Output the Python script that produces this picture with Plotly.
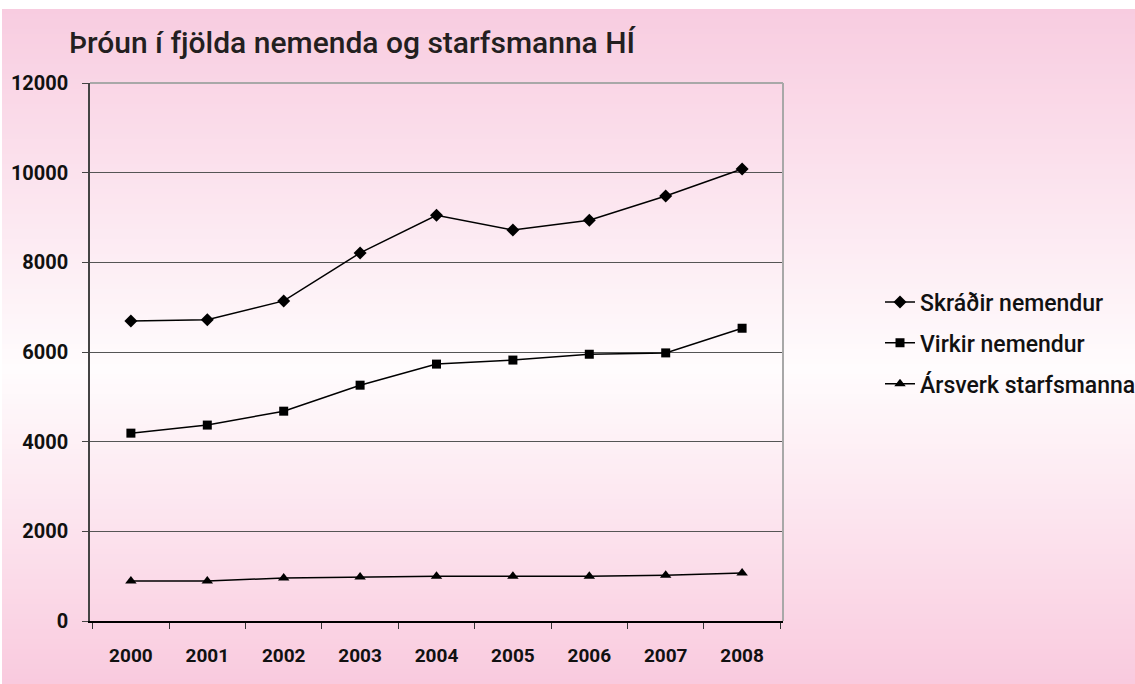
import plotly.graph_objects as go

years = ["2000", "2001", "2002", "2003", "2004", "2005", "2006", "2007", "2008"]
skradir = [6690, 6720, 7140, 8210, 9050, 8720, 8940, 9480, 10080]
virkir = [4190, 4370, 4680, 5260, 5730, 5820, 5950, 5980, 6530]
arsverk = [890, 890, 960, 980, 1000, 1000, 1000, 1020, 1070]
series_names = ["Skráðir nemendur", "Virkir nemendur", "Ársverk starfsmanna"]

W, H = 1135, 684
L, R, T, B = 90, 783, 83, 621  # plot area in pixels

fig = go.Figure()
symbols = ["diamond", "square", "triangle-up"]
sizes = [10, 9, 10]
for name, vals, sym, sz in zip(series_names, [skradir, virkir, arsverk], symbols, sizes):
    fig.add_trace(go.Scatter(
        x=years, y=vals, name=name, mode="lines+markers",
        line=dict(color="black", width=1.5),
        marker=dict(symbol=sym, size=sz, color="black"),
        legendgroup=name,
    ))

def py2paper(py):
    return (B - py) / (B - T)

def px2paper(px):
    return (px - L) / (R - L)

stops = [(9, (248, 204, 224)), (370, (255, 252, 253)), (684, (249, 202, 222))]

def col_at(py):
    for (y0, c0), (y1, c1) in zip(stops[:-1], stops[1:]):
        if y0 <= py <= y1:
            t = (py - y0) / (y1 - y0)
            return tuple(round(a + (b - a) * t) for a, b in zip(c0, c1))
    return stops[-1][1]

shapes = []
step = 5
y = 9
while y < 690:
    y2 = y + step
    c = col_at(min((y + y2) / 2, 684))
    shapes.append(dict(type="rect", xref="paper", yref="paper", layer="below",
                       x0=px2paper(2), x1=px2paper(1140), y0=py2paper(y2 + 0.5), y1=py2paper(y),
                       fillcolor="rgb(%d,%d,%d)" % c, line=dict(width=0)))
    y = y2
shapes.append(dict(type="line", xref="paper", yref="paper", x0=0, x1=1, y0=1, y1=1,
                   line=dict(color="#a8a8a8", width=2)))
shapes.append(dict(type="line", xref="paper", yref="paper", x0=1, x1=1, y0=0, y1=1,
                   line=dict(color="#a8a8a8", width=2)))

font_family = "Roboto, 'DejaVu Sans', sans-serif"
fig.update_layout(
    width=W, height=H,
    margin=dict(l=L, r=W - R, t=T, b=H - B, pad=0, autoexpand=False),
    paper_bgcolor="white",
    plot_bgcolor="rgba(0,0,0,0)",
    shapes=shapes,
    title=dict(text="Þróun í fjölda nemenda og starfsmanna HÍ",
               x=69 / W, xanchor="left", xref="container",
               y=1 - 42 / H, yanchor="middle", yref="container",
               font=dict(family=font_family, size=30, color="#231f20", weight=500)),
    font=dict(family=font_family, color="#111"),
    showlegend=True,
    legend=dict(x=px2paper(880), xanchor="left", y=py2paper(343), yanchor="middle",
                bgcolor="rgba(0,0,0,0)", traceorder="grouped", tracegroupgap=8,
                font=dict(size=23, color="#111", weight=500), itemwidth=30),
    xaxis=dict(type="category", showgrid=False, showline=True, linecolor="black",
               linewidth=1.5, ticks="outside", tickson="boundaries", ticklen=6,
               tickcolor="#333", tickfont=dict(size=19, weight="bold", color="#111"),
               ticklabelstandoff=16, zeroline=False, automargin=False),
    yaxis=dict(range=[0, 12000], dtick=2000, tickformat="d", showgrid=True,
               gridcolor="#555", gridwidth=1, showline=True, linecolor="#444",
               linewidth=1.5, ticks="outside", ticklen=6, tickcolor="#444",
               tickfont=dict(size=20, weight="bold", color="#111"),
               ticklabelstandoff=10, zeroline=False, automargin=False),
)

fig.write_html(
    "out.html",
    config={"displayModeBar": False},
    post_script="document.body.style.margin='0';document.body.style.overflow='hidden';",
)
